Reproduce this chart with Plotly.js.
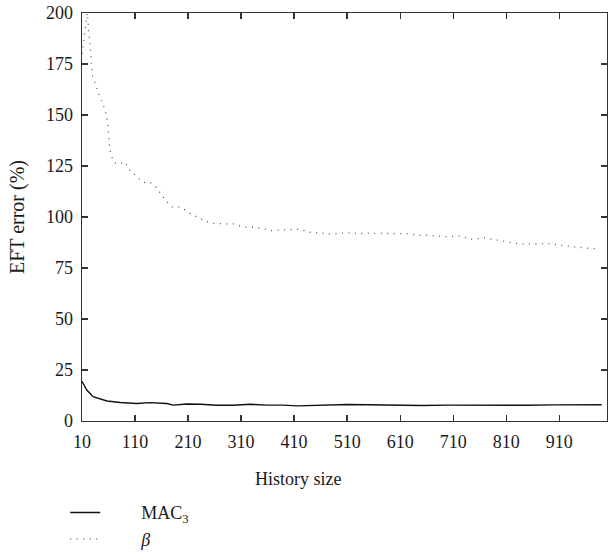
<!DOCTYPE html>
<html>
<head>
<meta charset="utf-8">
<script src="https://cdn.plot.ly/plotly-3.0.1.min.js"></script>
<style>html,body{margin:0;padding:0;background:#fff;}#chart{width:608px;height:560px;}</style>
</head>
<body>
<div id="chart"></div>
<script>
// History size (x) and EFT error (%) for MAC3
var macX = [10, 19, 31, 44, 57, 82, 113, 138, 170, 182, 208, 233, 265, 295, 327, 359, 389, 416, 430, 470, 510, 550, 600, 650, 700, 750, 800, 850, 900, 950, 990];
var macY = [19.5, 15.2, 11.9, 10.8, 9.8, 9.1, 8.6, 9.0, 8.6, 7.8, 8.3, 8.2, 7.7, 7.7, 8.2, 7.8, 7.8, 7.4, 7.5, 7.7, 8.1, 8.0, 7.7, 7.6, 7.8, 7.8, 7.5, 7.7, 7.9, 7.9, 8.0];

// History size (x) and EFT error (%) for beta
var betaX = [10, 20, 30, 35, 40, 45, 50, 55, 58, 60, 62, 65, 72, 80, 91, 100, 116, 125, 138, 148, 155, 163, 170, 180, 191, 202, 212, 223, 236, 246, 259, 272, 284, 297, 308, 321, 333, 346, 359, 370, 384, 397, 408, 421, 433, 444, 457, 470, 482, 495, 508, 519, 531, 544, 557, 582, 606, 619, 633, 644, 657, 670, 682, 695, 708, 719, 731, 744, 755, 768, 781, 793, 805, 818, 831, 842, 855, 868, 880, 893, 906, 918, 931, 944, 956, 968, 982];
var betaY = [180, 200, 169, 165, 161, 158, 155, 151, 147, 140, 134, 130, 126.5, 126, 127, 123, 119, 117, 117, 115.3, 112.7, 110, 107.5, 105, 105, 104, 102, 100.5, 99, 97.7, 96.9, 96.6, 96.6, 96.6, 95.6, 95.1, 95.1, 94.6, 93.9, 93.3, 93.6, 93.9, 93.9, 93.9, 92.9, 92.3, 92.3, 92, 91.5, 92, 92.3, 92.3, 91.7, 92.2, 92, 92, 91.7, 91.8, 91.5, 91, 91, 91, 90.7, 90.4, 90.4, 90.8, 89.9, 89.2, 89.2, 89.9, 89.2, 88.7, 87.9, 87.5, 87, 86.8, 86.8, 87, 87, 87, 86.3, 85.9, 85.8, 85.3, 84.9, 84.6, 84.3];

var xTicks = [10, 110, 210, 310, 410, 510, 610, 710, 810, 910];
var yTicks = [0, 25, 50, 75, 100, 125, 150, 175, 200];

var FAM = '"Liberation Serif", "DejaVu Serif", serif';
var font = {family: FAM, size: 18, color: '#1a1a1a'};
var pad = '\u00a0\u00a0\u00a0\u00a0\u00a0\u00a0\u00a0\u00a0';

var traces = [
  {x: macX, y: macY, type: 'scatter', mode: 'lines', name: pad + 'MAC<sub>3</sub>', legendgroup: 'a',
   line: {color: '#111', width: 1.4}},
  {x: betaX, y: betaY, type: 'scatter', mode: 'lines', name: pad + '<i>β</i>', legendgroup: 'b',
   line: {color: '#555', width: 1.3, dash: '1px,5.5px'}}
];

var axisCommon = {
  showgrid: false, zeroline: false, showline: true, linecolor: '#333', linewidth: 1.3,
  mirror: 'ticks', ticks: 'inside', ticklen: 6, tickwidth: 1.3, tickcolor: '#333',
  tickfont: font, ticklabelstandoff: 4
};

var layout = {
  width: 608, height: 560,
  margin: {l: 82, r: 1, t: 13, b: 0},
  paper_bgcolor: '#fff', plot_bgcolor: '#fff',
  font: font,
  showlegend: true,
  legend: {x: -0.032, y: 0.005, xanchor: 'left', yanchor: 'bottom',
           orientation: 'v', traceorder: 'grouped', tracegroupgap: 0,
           font: font, bgcolor: 'rgba(0,0,0,0)', itemwidth: 30},
  xaxis: Object.assign({}, axisCommon, {
    range: [10, 1000], tickvals: xTicks, ticktext: xTicks.map(String)
  }),
  yaxis: Object.assign({}, axisCommon, {
    domain: [0.2541, 1],
    range: [0, 200], tickvals: yTicks, ticktext: yTicks.map(String),
    title: {text: 'EFT error (%)', font: {family: FAM, size: 20, color: '#1a1a1a'}, standoff: 16}
  }),
  annotations: [
    {text: 'History size', xref: 'paper', yref: 'paper', x: 0.411, y: 0.148,
     xanchor: 'center', yanchor: 'middle', showarrow: false, font: font}
  ]
};

Plotly.newPlot('chart', traces, layout, {displayModeBar: false, staticPlot: true});
</script>
</body>
</html>
